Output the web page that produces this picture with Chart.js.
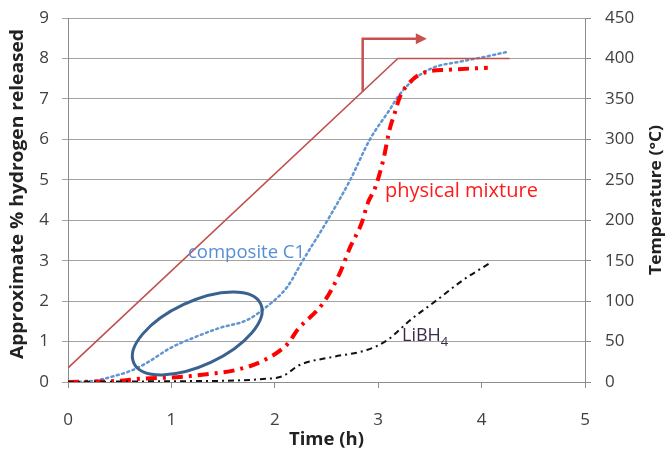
<!DOCTYPE html>
<html>
<head>
<meta charset="utf-8">
<script src="https://cdn.jsdelivr.net/npm/chart.js@4"></script>
<style>
  body { margin: 0; background: #fff; }
  canvas { display: block; }
</style>
</head>
<body>
<canvas id="h2Chart" width="670" height="453"></canvas>
<script>
// Data (time in h, hydrogen in %, temperature in °C)
const c1Time = [0, 0.25, 0.45, 0.6, 0.76, 0.99, 1.21, 1.47, 1.73, 1.92, 2.12, 2.27, 2.51, 2.73, 2.92, 3.11, 3.19, 3.34, 3.53, 3.79, 4.05, 4.26];
const c1H2 = [0, 0.03, 0.15, 0.27, 0.47, 0.84, 1.09, 1.34, 1.53, 1.86, 2.35, 3.0, 4.0, 5.0, 6.0, 6.73, 7.05, 7.47, 7.77, 7.92, 8.05, 8.17];

const pmTime = [0, 0.5, 0.7, 1.05, 1.37, 1.63, 1.89, 2.13, 2.22, 2.47, 2.63, 2.73, 2.84, 2.9, 2.97, 3.05, 3.11, 3.16, 3.21, 3.33, 3.47, 3.67, 4.06];
const pmH2 = [0, 0.03, 0.08, 0.12, 0.2, 0.3, 0.53, 0.96, 1.29, 1.96, 2.7, 3.34, 3.93, 4.43, 4.8, 5.5, 6.24, 6.65, 7.05, 7.47, 7.67, 7.72, 7.77];

const liTime = [0, 1.0, 1.5, 1.86, 2.08, 2.24, 2.56, 2.89, 3.09, 3.31, 3.57, 3.82, 4.08];
const liH2 = [0, 0.02, 0.03, 0.07, 0.15, 0.42, 0.62, 0.79, 1.04, 1.53, 2.03, 2.52, 2.94];

const tempTime = [0, 3.19, 4.27];
const tempC = [17.5, 400, 400];

function points(xs, ys) {
  return xs.map((x, i) => ({ x: x, y: ys[i] }));
}

const tickFont = { family: 'Open Sans', size: 17 };
const tickColor = '#404040';
const axisColor = '#8c8c8c';

// draw text squeezed/stretched to a target width (the original uses a narrow font)
function fitText(c, text, cx, cy, width) {
  const w = c.measureText(text).width;
  c.save();
  c.translate(cx, cy);
  c.scale(width / w, 1);
  c.fillText(text, 0, 0);
  c.restore();
}

// Titles, curve labels, ellipse and arrow
const extras = {
  id: 'extras',
  afterDraw(chart) {
    const c = chart.ctx;
    const x = chart.scales.x, y = chart.scales.y, y2 = chart.scales.y2;
    c.save();

    // ellipse around the composite shoulder
    c.strokeStyle = '#3a6290';
    c.lineWidth = 3;
    c.beginPath();
    c.ellipse(x.getPixelForValue(1.25), y.getPixelForValue(1.2), 70, 32, -25 * Math.PI / 180, 0, 2 * Math.PI);
    c.stroke();

    // arrow pointing to the temperature axis
    const ax = x.getPixelForValue(2.85);
    const ay0 = y2.getPixelForValue(359);
    const ay1 = y2.getPixelForValue(424.5);
    const ax1 = x.getPixelForValue(3.47);
    c.strokeStyle = '#c9504f';
    c.fillStyle = '#c9504f';
    c.lineWidth = 2.5;
    c.beginPath();
    c.moveTo(ax, ay0);
    c.lineTo(ax, ay1);
    c.lineTo(ax1 - 8, ay1);
    c.stroke();
    c.beginPath();
    c.moveTo(ax1, ay1);
    c.lineTo(ax1 - 11, ay1 - 5.5);
    c.lineTo(ax1 - 11, ay1 + 5.5);
    c.closePath();
    c.fill();

    // curve labels
    c.textBaseline = 'alphabetic';
    c.textAlign = 'left';
    c.font = '18.5px "Open Sans"';
    c.fillStyle = '#558ed5';
    c.fillText('composite C1', 188, 258);
    c.font = '20px "Open Sans"';
    c.fillStyle = '#ff1a1a';
    c.fillText('physical mixture', 385, 197);
    c.font = '18px "Open Sans"';
    c.fillStyle = '#3b2a4a';
    c.fillText('LiBH', 402, 341);
    const w = c.measureText('LiBH').width;
    c.font = '13px "Open Sans"';
    c.fillText('4', 402 + w, 346);

    // axis titles
    c.fillStyle = '#222';
    c.textAlign = 'center';
    c.textBaseline = 'middle';
    c.font = 'bold 17px "Open Sans"';
    fitText(c, 'Time (h)', (chart.chartArea.left + chart.chartArea.right) / 2, 440, 75);
    c.save();
    c.translate(18, 194);
    c.rotate(-Math.PI / 2);
    c.font = 'bold 18px "Open Sans"';
    fitText(c, 'Approximate % hydrogen released', 0, 0, 330);
    c.restore();
    c.save();
    c.translate(656, 200);
    c.rotate(-Math.PI / 2);
    c.font = 'bold 16px "Open Sans"';
    fitText(c, 'Temperature (°C)', 0, 0, 150);
    c.restore();

    c.restore();
  }
};

const ctx = document.getElementById('h2Chart').getContext('2d');
const chart = new Chart(ctx, {
  type: 'scatter',
  data: {
    datasets: [
      {
        label: 'Temperature',
        data: points(tempTime, tempC),
        yAxisID: 'y2',
        showLine: true,
        borderColor: '#c0504d',
        borderWidth: 1.6,
        pointRadius: 0,
        tension: 0
      },
      {
        label: 'LiBH4',
        data: points(liTime, liH2),
        yAxisID: 'y',
        showLine: true,
        borderColor: '#111',
        borderWidth: 2,
        borderDash: [6, 4, 2, 4],
        pointRadius: 0,
        cubicInterpolationMode: 'monotone'
      },
      {
        label: 'physical mixture',
        data: points(pmTime, pmH2),
        yAxisID: 'y',
        showLine: true,
        borderColor: '#ff0000',
        borderWidth: 4,
        borderDash: [11, 6, 3, 6],
        pointRadius: 0,
        cubicInterpolationMode: 'monotone'
      },
      {
        label: 'composite C1',
        data: points(c1Time, c1H2),
        yAxisID: 'y',
        showLine: true,
        borderColor: '#6196cf',
        borderWidth: 2.5,
        borderDash: [2, 3.5],
        borderCapStyle: 'round',
        pointRadius: 0,
        cubicInterpolationMode: 'monotone'
      }
    ]
  },
  options: {
    responsive: false,
    animation: false,
    layout: { padding: { top: 18, left: 0, right: 0, bottom: 0 } },
    plugins: {
      legend: { display: false },
      tooltip: { enabled: false }
    },
    scales: {
      x: {
        type: 'linear',
        min: 0,
        max: 5,
        ticks: { stepSize: 1, font: tickFont, color: tickColor, padding: 22 },
        grid: { drawOnChartArea: false, tickLength: 6, color: axisColor },
        border: { color: axisColor },
        afterFit: s => { s.height = 71; s.paddingLeft = 0; s.paddingRight = 0; }
      },
      y: {
        position: 'left',
        min: 0,
        max: 9,
        ticks: { stepSize: 1, font: tickFont, color: tickColor, padding: 13 },
        grid: { color: '#a3a3a3', tickLength: 6 },
        border: { color: axisColor },
        afterFit: s => { s.width = 68; s.paddingTop = 0; s.paddingBottom = 0; }
      },
      y2: {
        position: 'right',
        min: 0,
        max: 450,
        ticks: { stepSize: 50, font: tickFont, color: tickColor, padding: 14 },
        grid: { drawOnChartArea: false, tickLength: 6, color: axisColor },
        border: { color: axisColor },
        afterFit: s => { s.width = 85; s.paddingTop = 0; s.paddingBottom = 0; }
      }
    }
  },
  plugins: [extras]
});
</script>
</body>
</html>
